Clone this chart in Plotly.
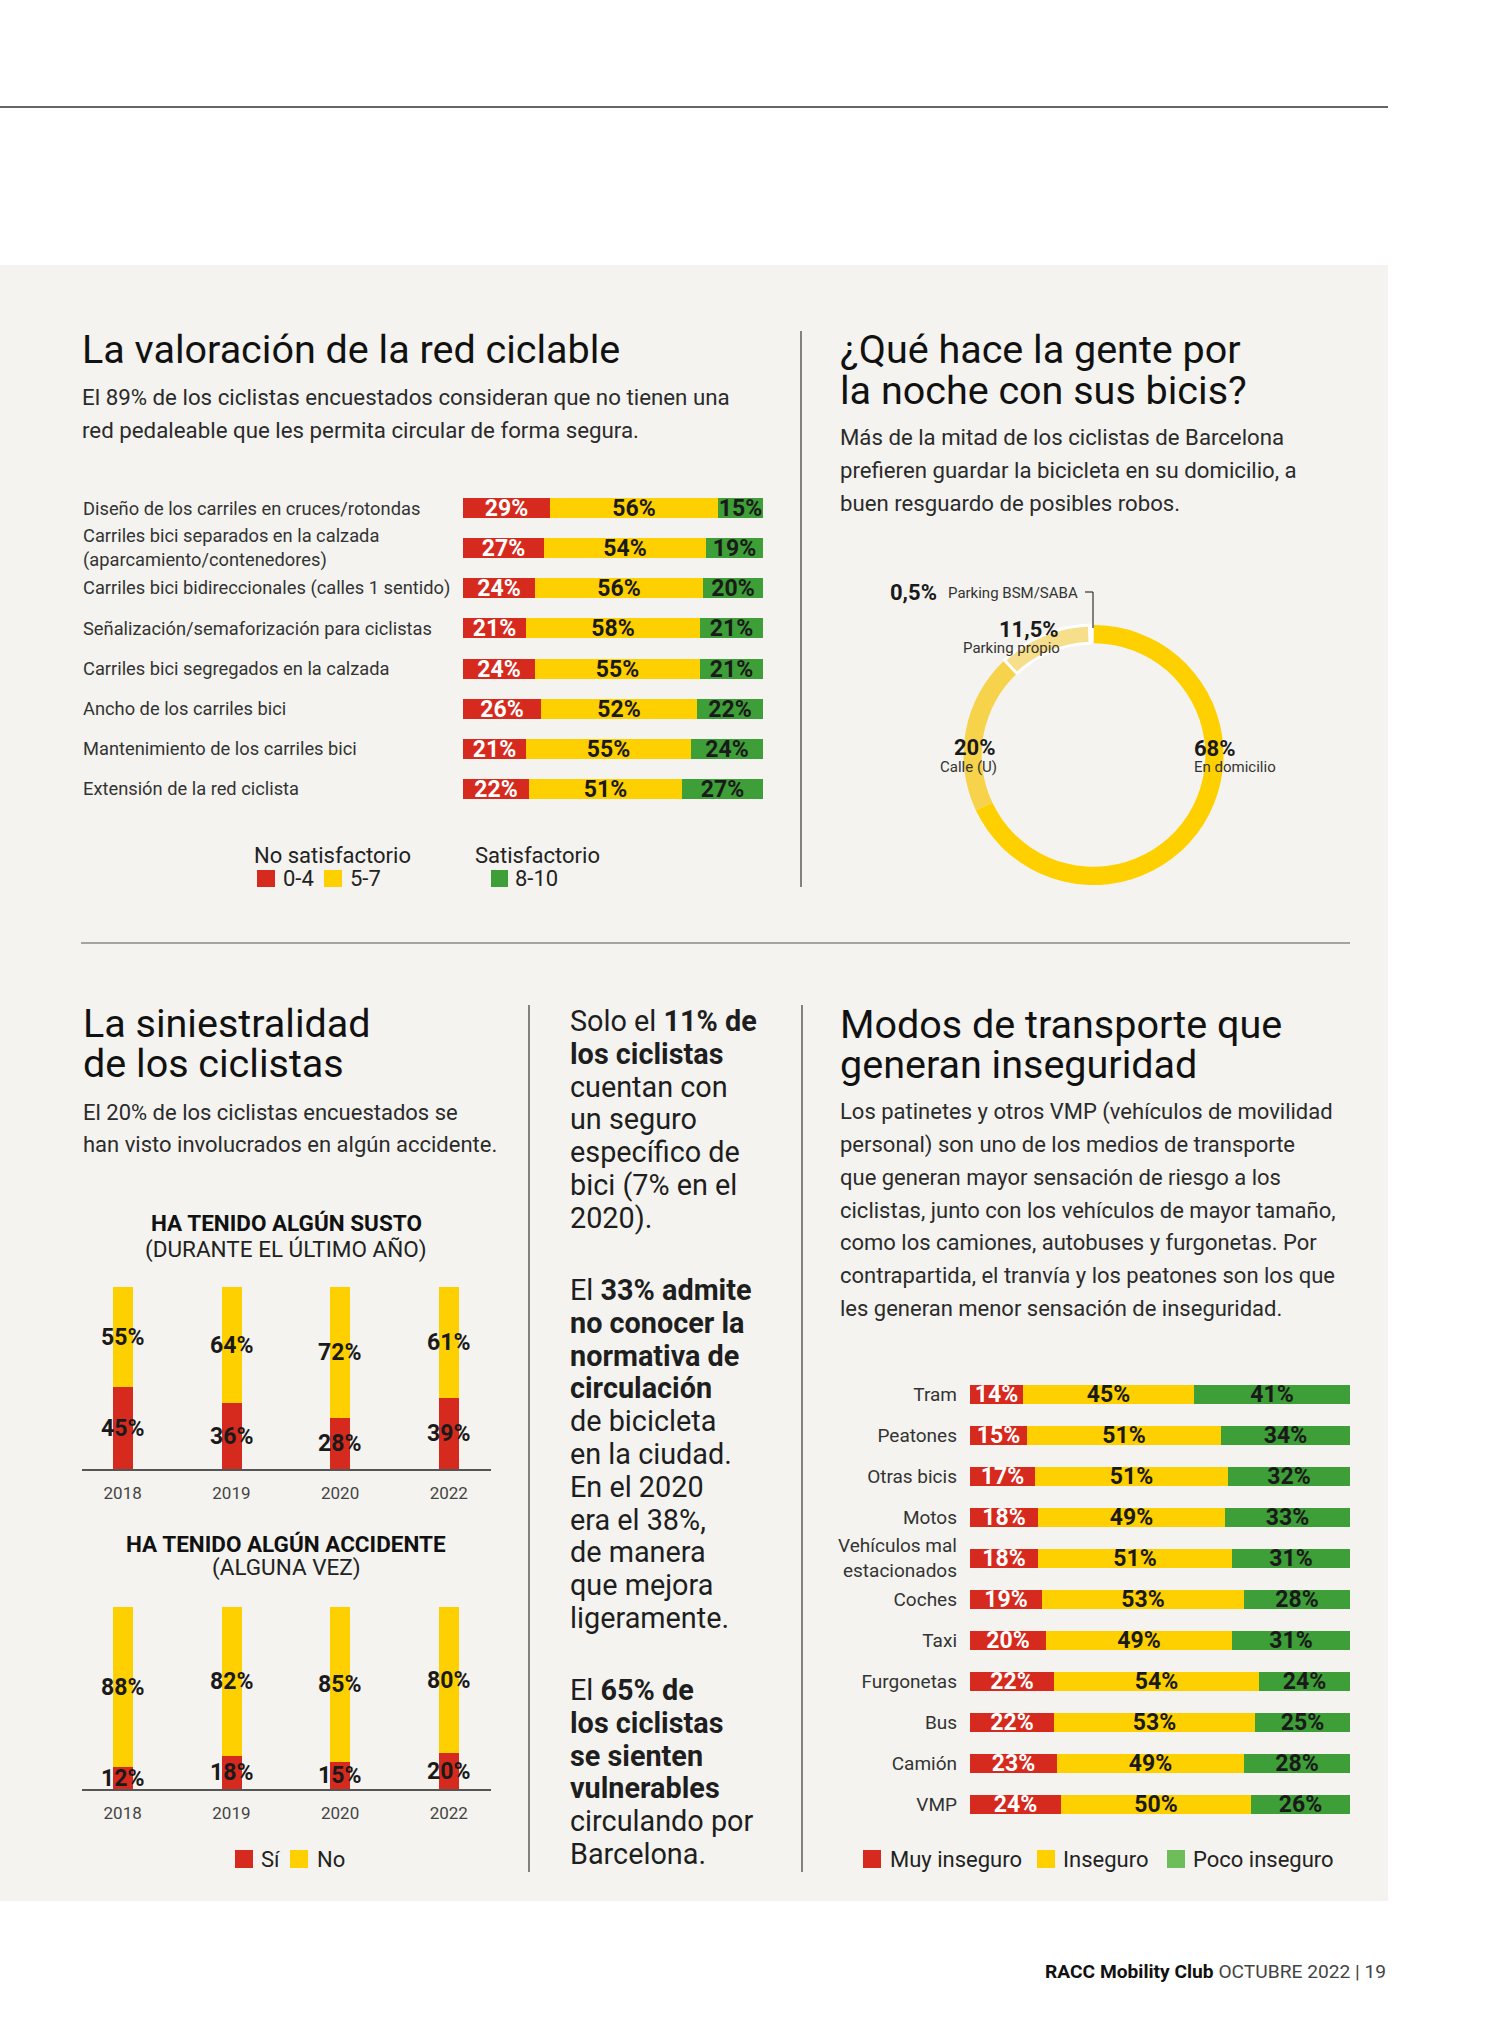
import plotly.graph_objects as go

W, H = 1506, 2040
FONT = "Roboto, 'Liberation Sans', Arial, sans-serif"

RED = "#D62A1E"
YEL = "#FFD000"
GRN = "#3E9E37"
GRN_LIGHT = "#6DBE5B"
INK = "#1A1A1A"
TXT = "#2B2B2B"
PANEL = "#F4F3EF"

# ---------------- data ----------------
valor_cats = [
    "Diseño de los carriles en cruces/rotondas",
    "Carriles bici separados en la calzada<br>(aparcamiento/contenedores)",
    "Carriles bici bidireccionales (calles 1 sentido)",
    "Señalización/semaforización para ciclistas",
    "Carriles bici segregados en la calzada",
    "Ancho de los carriles bici",
    "Mantenimiento de los carriles bici",
    "Extensión de la red ciclista",
]
valor_04 = [29, 27, 24, 21, 24, 26, 21, 22]
valor_57 = [56, 54, 56, 58, 55, 52, 55, 51]
valor_810 = [15, 19, 20, 21, 21, 22, 24, 27]

noche_labels = ["En domicilio", "Calle (U)", "Parking propio", "Parking BSM/SABA"]
noche_values = [68, 20, 11.5, 0.5]
noche_text = ["68%", "20%", "11,5%", "0,5%"]

years = ["2018", "2019", "2020", "2022"]
susto_si = [45, 36, 28, 39]
susto_no = [55, 64, 72, 61]
accidente_si = [12, 18, 15, 20]
accidente_no = [88, 82, 85, 80]

modos_cats = ["Tram", "Peatones", "Otras bicis", "Motos", "Vehículos mal<br>estacionados",
              "Coches", "Taxi", "Furgonetas", "Bus", "Camión", "VMP"]
modos_muy = [14, 15, 17, 18, 18, 19, 20, 22, 22, 23, 24]
modos_ins = [45, 51, 51, 49, 51, 53, 49, 54, 53, 49, 50]
modos_poco = [41, 34, 32, 33, 31, 28, 31, 24, 25, 28, 26]


def px(x):
    return x / W


def py(y):
    return 1 - y / H


fig = go.Figure()

# ---------- horizontal stacked bars ----------
def hbar(cats, vals, color, tcolor, xa, ya, width):
    fig.add_trace(go.Bar(
        x=vals, y=cats, orientation="h", xaxis=xa, yaxis=ya, width=width,
        marker=dict(color=color, line=dict(width=0)),
        text=[f"<b>{v}%</b>" for v in vals], textposition="inside",
        insidetextanchor="middle", textangle=0, constraintext="none",
        textfont=dict(family=FONT, size=23, color=tcolor),
        showlegend=False, hoverinfo="skip"))


for vals, col, tc in [(valor_04, RED, "white"), (valor_57, YEL, INK), (valor_810, GRN, INK)]:
    hbar(valor_cats, vals, col, tc, "x", "y", 0.5)

for vals, col, tc in [(modos_muy, RED, "white"), (modos_ins, YEL, INK), (modos_poco, GRN, INK)]:
    hbar(modos_cats, vals, col, tc, "x4", "y4", 0.475)

# ---------- vertical stacked bars ----------
def vbar(vals, color, xa, ya):
    fig.add_trace(go.Bar(
        x=years, y=vals, xaxis=xa, yaxis=ya, width=0.184,
        marker=dict(color=color, line=dict(width=0)),
        text=[f"<b>{v}%</b>" for v in vals], textposition="inside",
        insidetextanchor="middle", textangle=0, constraintext="none",
        textfont=dict(family=FONT, size=23, color=INK),
        showlegend=False, hoverinfo="skip"))


vbar(susto_si, RED, "x2", "y2")
vbar(susto_no, YEL, "x2", "y2")
vbar(accidente_si, RED, "x3", "y3")
vbar(accidente_no, YEL, "x3", "y3")

# ---------- donut ----------
fig.add_trace(go.Pie(
    values=noche_values, labels=noche_labels, hole=0.86, sort=False,
    direction="clockwise", rotation=0, textinfo="none", hoverinfo="skip",
    marker=dict(colors=["#FFD000", "#F6D34A", "#F7DE8A", "#FFFFFF"],
                line=dict(color=["#FFFFFF", "#FFFFFF", "#FFFFFF", "#FFFFFF"], width=[0, 0, 3, 0])),
    domain=dict(x=[px(963.5), px(1223.5)], y=[py(885), py(625)]),
    showlegend=False))

# ---------- axes ----------
hidden = dict(visible=False, showgrid=False, zeroline=False, fixedrange=True)
fig.update_layout(
    xaxis=dict(domain=[px(463), px(763)], range=[0, 100], anchor="y", **hidden),
    yaxis=dict(domain=[py(809), py(488)], type="category", categoryorder="array",
               categoryarray=valor_cats, range=[7.5, -0.5], anchor="x", **hidden),
    xaxis2=dict(domain=[px(81.7), px(491)], type="category", range=[-0.377, 3.388], anchor="y2",
                showline=True, linecolor="#555555", linewidth=1.5, ticks="", showgrid=False,
                zeroline=False, tickfont=dict(family=FONT, size=17, color="#444444"),
                ticklabelstandoff=8, fixedrange=True),
    yaxis2=dict(domain=[py(1469), py(1287)], range=[0, 100], anchor="x2", **hidden),
    xaxis3=dict(domain=[px(81.7), px(491)], type="category", range=[-0.377, 3.388], anchor="y3",
                showline=True, linecolor="#555555", linewidth=1.5, ticks="", showgrid=False,
                zeroline=False, tickfont=dict(family=FONT, size=17, color="#444444"),
                ticklabelstandoff=8, fixedrange=True),
    yaxis3=dict(domain=[py(1789), py(1607)], range=[0, 100], anchor="x3", **hidden),
    xaxis4=dict(domain=[px(970), px(1350)], range=[0, 100], anchor="y4", **hidden),
    yaxis4=dict(domain=[py(1824.5), py(1373.5)], type="category", categoryorder="array",
                categoryarray=modos_cats, range=[10.5, -0.5], anchor="x4",
                showgrid=False, zeroline=False, showline=False, ticks="",
                tickfont=dict(family=FONT, size=19, color="#333333"),
                ticklabelstandoff=12, fixedrange=True),
)

# ---------- shapes ----------
shapes = []
shapes.append(dict(type="rect", xref="paper", yref="paper", x0=0, x1=px(1388),
                   y0=py(1901), y1=py(265), fillcolor=PANEL, line=dict(width=0), layer="below"))


def hline(x0, x1, y, color="#444444", w=1.3):
    shapes.append(dict(type="line", xref="paper", yref="paper", x0=px(x0), x1=px(x1),
                       y0=py(y), y1=py(y), line=dict(color=color, width=w)))


def vline(x, y0, y1, color="#444444", w=1.3):
    shapes.append(dict(type="line", xref="paper", yref="paper", x0=px(x), x1=px(x),
                       y0=py(y0), y1=py(y1), line=dict(color=color, width=w)))


def square(x0, x1, y0, y1, color):
    shapes.append(dict(type="rect", xref="paper", yref="paper", x0=px(x0), x1=px(x1),
                       y0=py(y1), y1=py(y0), fillcolor=color, line=dict(width=0)))


hline(0, 1388, 107, "#333333", 1.6)
vline(801, 331, 887)
hline(81, 1350, 943, "#555555", 1.2)
vline(529, 1005, 1872)
vline(802, 1005, 1872)

# leader line for 0,5%
hline(1085, 1093, 592, "#333333", 1.2)
vline(1093, 592, 628, "#333333", 1.2)

# legend squares
square(257, 275, 870, 887, RED)
square(324, 342, 870, 887, YEL)
square(491, 508, 870, 887, GRN)
square(235, 253, 1850, 1868, RED)
square(290, 308, 1850, 1868, YEL)
square(863, 881, 1850, 1868, RED)
square(1037, 1055, 1850, 1868, YEL)
square(1167, 1185, 1850, 1868, GRN_LIGHT)

# ---------- annotations ----------
ann = []


def txt(x, y, s, size, color=TXT, xanchor="left"):
    ann.append(dict(x=px(x), y=py(y), xref="paper", yref="paper", text=s, showarrow=False,
                    xanchor=xanchor, yanchor="middle", align=xanchor if xanchor != "center" else "center",
                    font=dict(family=FONT, size=size, color=color)))


def block(x, y0, lines, size, dy, color=TXT):
    for i, s in enumerate(lines):
        txt(x, y0 + i * dy, s, size, color)


# Section 1
txt(80, 349, "La valoración de la red ciclable", 39.5, "#111111")
block(80, 397, ["El 89% de los ciclistas encuestados consideran que no tienen una",
                "red pedaleable que les permita circular de forma segura."], 22.3, 33)
for c in valor_cats:
    ann.append(dict(x=px(80.5), y=c, xref="paper", yref="y", text=c, showarrow=False,
                    xanchor="left", yanchor="middle", align="left",
                    font=dict(family=FONT, size=18.3, color="#333333")))
txt(251.5, 855, "No satisfactorio", 22, "#222222")
txt(281, 878, "0-4", 22, "#222222")
txt(348, 878, "5-7", 22, "#222222")
txt(472.5, 855, "Satisfactorio", 22, "#222222")
txt(513, 878, "8-10", 22, "#222222")

# Section 2
txt(838, 349, "¿Qué hace la gente por", 39.5, "#111111")
txt(838, 390, "la noche con sus bicis?", 39.5, "#111111")
block(838, 437, ["Más de la mitad de los ciclistas de Barcelona",
                 "prefieren guardar la bicicleta en su domicilio, a",
                 "buen resguardo de posibles robos."], 22.2, 33)
txt(888, 592, f"<b>{noche_text[3]}</b>", 22, INK)
txt(946, 593, noche_labels[3], 15, "#333333")
txt(1061, 629, f"<b>{noche_text[2]}</b>", 22, INK, "right")
txt(1062, 648, noche_labels[2], 15, "#333333", "right")
txt(998, 747, f"<b>{noche_text[1]}</b>", 22, INK, "right")
txt(999, 767, noche_labels[1], 15, "#333333", "right")
txt(1192, 748, f"<b>{noche_text[0]}</b>", 22, INK)
txt(1192, 767, noche_labels[0], 15, "#333333")

# Section 3
txt(81, 1023, "La siniestralidad", 39.5, "#111111")
txt(81, 1063, "de los ciclistas", 39.5, "#111111")
block(81, 1112, ["El 20% de los ciclistas encuestados se",
                 "han visto involucrados en algún accidente."], 22, 32.5)
txt(286, 1223, "<b>HA TENIDO ALGÚN SUSTO</b>", 22.5, "#111111", "center")
txt(286, 1249, "(DURANTE EL ÚLTIMO AÑO)", 22.5, "#222222", "center")
txt(286, 1544, "<b>HA TENIDO ALGÚN ACCIDENTE</b>", 22.5, "#111111", "center")
txt(286, 1567, "(ALGUNA VEZ)", 22.5, "#222222", "center")
txt(259, 1859, "Sí", 22, "#222222")
txt(315, 1859, "No", 22, "#222222")

# Middle text column
dy = 32.8
block(568, 1021, ["Solo el <b>11% de</b>", "<b>los ciclistas</b>", "cuentan con", "un seguro",
                  "específico de", "bici (7% en el", "2020)."], 28.8, dy, "#1E1E1E")
block(568, 1290, ["El <b>33% admite</b>", "<b>no conocer la</b>", "<b>normativa de</b>",
                  "<b>circulación</b>", "de bicicleta", "en la ciudad.", "En el 2020",
                  "era el 38%,", "de manera", "que mejora", "ligeramente."], 28.8, dy, "#1E1E1E")
block(568, 1690, ["El <b>65% de</b>", "<b>los ciclistas</b>", "<b>se sienten</b>",
                  "<b>vulnerables</b>", "circulando por", "Barcelona."], 28.8, dy, "#1E1E1E")

# Section 4
txt(838, 1024, "Modos de transporte que", 39.5, "#111111")
txt(838, 1064, "generan inseguridad", 39.5, "#111111")
block(838, 1112, ["Los patinetes y otros VMP (vehículos de movilidad",
                  "personal) son uno de los medios de transporte",
                  "que generan mayor sensación de riesgo a los",
                  "ciclistas, junto con los vehículos de mayor tamaño,",
                  "como los camiones, autobuses y furgonetas. Por",
                  "contrapartida, el tranvía y los peatones son los que",
                  "les generan menor sensación de inseguridad."], 22, 32.7)
txt(888, 1859, "Muy inseguro", 22, "#222222")
txt(1061, 1859, "Inseguro", 22, "#222222")
txt(1191, 1859, "Poco inseguro", 22, "#222222")

# Footer
txt(1388, 1971, "<b>RACC Mobility Club</b> <span style='color:#444444'>OCTUBRE 2022 | 19</span>",
    19.2, "#111111", "right")

fig.update_layout(
    width=W, height=H, margin=dict(l=0, r=0, t=0, b=0, autoexpand=False),
    paper_bgcolor="#FFFFFF", plot_bgcolor="rgba(0,0,0,0)",
    barmode="stack", bargap=0, shapes=shapes, annotations=ann,
    font=dict(family=FONT, color=TXT),
)

fig.write_html("out.html", config={"displayModeBar": False},
               post_script="document.body.style.margin='0px';")
